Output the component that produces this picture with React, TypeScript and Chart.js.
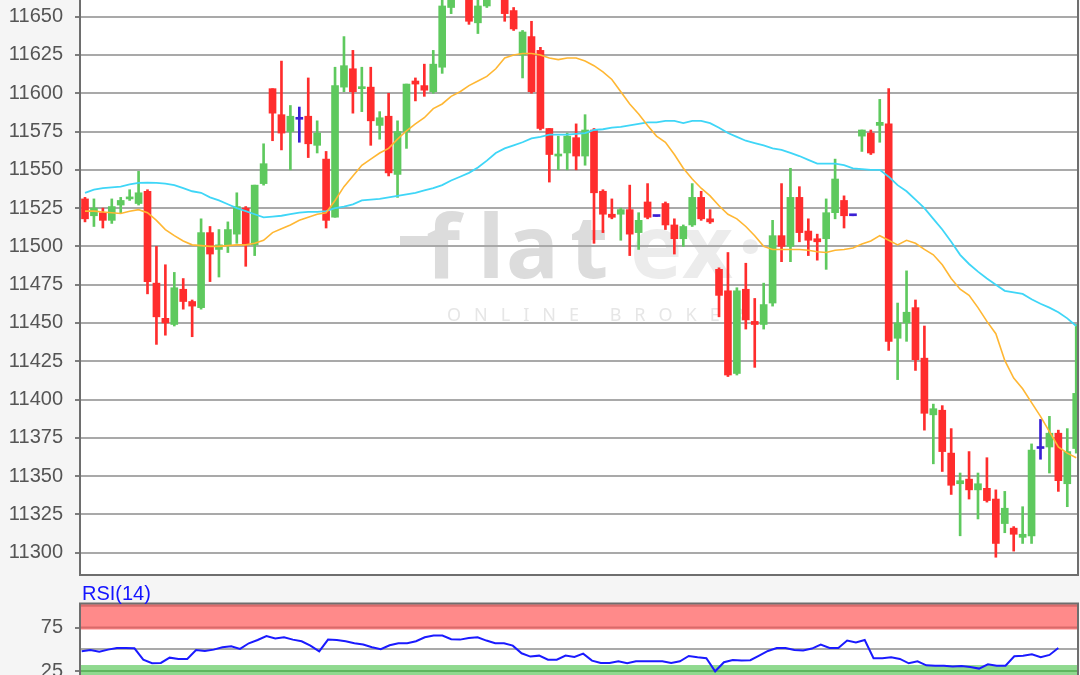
import { useEffect, useRef } from 'react';
import { Chart, registerables } from 'chart.js';

Chart.register(...registerables);

// ---- price candles (index 0..111) ----
const opens = [
  11531, 11520, 11522, 11517, 11527, 11531, 11528, 11536, 11476, 11453,
  11449, 11472, 11464, 11460, 11509, 11498, 11501, 11508, 11525, 11501,
  11541, 11603, 11586, 11575, 11583, 11585, 11566, 11557, 11519, 11604,
  11616, 11603, 11604, 11579, 11585, 11547, 11575, 11608, 11605, 11601,
  11617, 11656, 11665, 11668, 11646, 11657, 11672, 11664, 11654, 11625,
  11637, 11628, 11577, 11559, 11561, 11571, 11559, 11576, 11536, 11521,
  11521, 11524, 11509, 11529, 11519.5, 11528, 11514, 11505, 11514, 11532,
  11518, 11485, 11471, 11417, 11472, 11451, 11449, 11463, 11507, 11500,
  11532, 11510, 11505, 11505, 11522, 11530, 11520, 11572, 11574, 11579,
  11580, 11440, 11450, 11460, 11427, 11390, 11393, 11365, 11345, 11348,
  11341, 11342, 11335, 11319, 11316, 11310, 11311, 11368, 11369, 11378,
  11345, 11368,
];
const highs = [
  11532, 11531, 11525, 11531, 11532, 11537, 11549, 11537, 11500, 11488,
  11483, 11479, 11465, 11518, 11513, 11511, 11516, 11535, 11526, 11540,
  11567, 11603, 11621, 11592, 11591, 11610, 11582, 11562, 11617, 11637,
  11628, 11617, 11617, 11588, 11600, 11582, 11606, 11610, 11619, 11628,
  11665, 11668, 11680, 11672, 11663, 11668, 11678, 11668, 11656, 11641,
  11647, 11630, 11577, 11572, 11574, 11580, 11586, 11577, 11537, 11531,
  11525, 11540, 11522, 11541, 11519.5, 11529, 11518, 11514, 11541, 11536,
  11524, 11486, 11496, 11473, 11489, 11466, 11476, 11517, 11541, 11551,
  11539, 11518, 11508, 11531, 11557, 11533, 11520, 11576, 11576, 11596,
  11603, 11463, 11484, 11465, 11448, 11397, 11396, 11381, 11352, 11366,
  11352, 11362, 11341, 11340, 11317, 11330, 11371, 11387, 11389, 11380,
  11381, 11449,
];
const lows = [
  11516, 11513, 11512, 11515, 11522, 11530, 11527, 11469, 11436, 11442,
  11448, 11459, 11441, 11459, 11477, 11480, 11496, 11502, 11487, 11494,
  11540, 11569, 11563, 11550, 11568, 11558, 11561, 11512, 11519, 11601,
  11587, 11588, 11566, 11570, 11546, 11532, 11564, 11595, 11598, 11600,
  11613, 11652, 11662, 11645, 11639, 11656, 11662, 11647, 11641, 11610,
  11600, 11576, 11542, 11550, 11550, 11550, 11553, 11502, 11509, 11518,
  11504, 11494, 11498, 11518, 11519.5, 11511, 11495, 11500, 11513, 11517,
  11515, 11454, 11415, 11416, 11446, 11421, 11446, 11461, 11490, 11490,
  11503, 11494, 11491, 11485, 11518, 11512, 11520, 11562, 11560, 11568,
  11432, 11413, 11438, 11419, 11380, 11358, 11353, 11338, 11311, 11335,
  11322, 11333, 11297, 11313, 11301, 11306, 11306, 11361, 11352, 11340,
  11330, 11365,
];
const closes = [
  11518, 11525, 11517, 11526, 11530, 11532, 11535, 11477, 11454, 11450,
  11473, 11464, 11461, 11509, 11495, 11501, 11511, 11526, 11501, 11540,
  11554, 11587, 11574, 11585, 11583, 11567, 11574, 11517, 11605, 11618,
  11601, 11604, 11582, 11584, 11548, 11575, 11606, 11606, 11602, 11619,
  11657, 11664, 11675, 11647, 11657, 11663, 11665, 11652, 11642, 11640,
  11601, 11577, 11560, 11560, 11572, 11559, 11576, 11535, 11521, 11519,
  11524, 11508, 11517, 11519, 11519.5, 11514, 11505, 11513, 11532, 11518,
  11516, 11468, 11416, 11471, 11452, 11449, 11462, 11507, 11500, 11532,
  11509, 11504, 11503, 11522, 11544, 11520, 11520, 11576, 11561, 11581,
  11438, 11450, 11457, 11426, 11391, 11394, 11366, 11344, 11347, 11341,
  11345, 11334, 11306, 11329, 11312, 11312, 11367, 11368, 11378, 11347,
  11366, 11404,
];

// ---- moving averages ----
const maFast = [
  11523, 11523, 11522.5, 11522, 11521.5, 11523, 11524, 11522, 11517, 11511,
  11507, 11503.5, 11501, 11500.5, 11500, 11500, 11500.5, 11501, 11501, 11502,
  11504, 11509, 11511.5, 11514, 11517, 11519, 11521, 11522, 11530, 11539,
  11546, 11553, 11557, 11561, 11564, 11570, 11575.5, 11580, 11584, 11590,
  11593, 11598, 11601, 11605, 11608, 11611, 11616, 11623, 11625, 11626,
  11626, 11625, 11623, 11622, 11623, 11623, 11621, 11618, 11614, 11609,
  11601, 11593, 11586.5, 11579, 11572, 11568, 11560, 11551, 11544, 11538,
  11533, 11526.5, 11521, 11518, 11513, 11507, 11500, 11498, 11498, 11498,
  11498, 11497.5, 11496.5, 11496, 11497.5, 11498, 11499, 11501.5, 11503.5, 11507,
  11504, 11501, 11504, 11502, 11498, 11494.5, 11488, 11479, 11472, 11468,
  11460, 11451, 11443, 11425.5, 11414, 11407, 11398, 11389, 11379, 11369,
  11365, 11362,
];
const maSlow = [
  11535, 11537, 11538, 11538.5, 11539, 11540.5, 11541.5, 11541.6, 11541.5, 11541,
  11540, 11538, 11536, 11535, 11532, 11530, 11527.5, 11525, 11523, 11521,
  11519, 11519.5, 11520, 11521, 11522, 11522.5, 11522.5, 11523, 11525, 11526,
  11527.5, 11530, 11530.5, 11531, 11532, 11533, 11534, 11535, 11536.5, 11538,
  11540, 11543, 11545.5, 11548, 11551.5, 11556, 11561, 11564, 11566, 11568,
  11570.5, 11571.5, 11573, 11573, 11573, 11573.5, 11574, 11576, 11576.5, 11577.5,
  11578, 11579, 11580, 11581, 11581, 11582, 11582, 11580.5, 11582, 11582,
  11580.5, 11577.5, 11574, 11571.5, 11569, 11567.5, 11566, 11564, 11563, 11561,
  11559, 11556.5, 11554, 11554, 11554, 11553, 11551, 11550.5, 11550, 11550,
  11545.5, 11540, 11536, 11530.5, 11525, 11518, 11511, 11503, 11494.5, 11488.5,
  11483.5, 11479, 11475, 11471, 11470, 11469, 11465.5, 11462.5, 11460, 11457,
  11453, 11448,
];

// ---- RSI(14) ----
const rsi = [
  47.7, 49.2, 47.3, 49.6, 51.5, 51.5, 51.1, 38.1, 33.9, 34.3,
  40.4, 38.9, 38.9, 49.2, 48.1, 49.6, 52.3, 53.4, 50.4, 56.9,
  60.7, 65.3, 62.3, 63.8, 61.1, 59.2, 54.2, 47.7, 61.1, 60.7,
  59.2, 56.9, 55.4, 52.3, 50.0, 54.6, 56.9, 56.9, 59.2, 63.8,
  65.7, 65.7, 61.5, 61.1, 63.0, 63.8, 60.0, 56.9, 56.9, 54.2,
  45.4, 41.6, 42.7, 38.1, 38.1, 42.7, 41.2, 45.0, 37.0, 34.3,
  34.3, 36.2, 33.9, 36.2, 36.2, 36.2, 36.2, 34.3, 36.2, 42.3,
  40.8, 39.7, 24.7, 35.1, 37.7, 37.0, 37.4, 42.7, 48.1, 51.5,
  51.5, 49.2, 48.5, 50.8, 55.4, 51.5, 51.5, 60.0, 57.7, 60.7,
  39.7, 39.7, 40.8, 38.9, 33.9, 36.2, 31.6, 31.2, 31.2, 30.1,
  30.8, 29.7, 27.8, 32.8, 31.2, 31.2, 42.0, 42.7, 44.3, 40.8,
  43.5, 51.5,
];

const priceTicks = [11300, 11325, 11350, 11375, 11400, 11425, 11450, 11475, 11500, 11525, 11550, 11575, 11600, 11625, 11650];
const rsiTicks = [25, 50, 75];

const GREEN = '#5ec95e';
const RED = '#ff2d2d';
const BLUE = '#3a20d4';
const FONT = "'Liberation Sans', Arial, sans-serif";

export default function App() {
  const mainRef = useRef<HTMLCanvasElement>(null);
  const rsiRef = useRef<HTMLCanvasElement>(null);

  useEffect(() => {
    const idx = opens.map((_, i) => i);
    const colors = idx.map((i) =>
      closes[i] > opens[i] ? GREEN : closes[i] < opens[i] ? RED : BLUE
    );

    const mainPlugin = {
      id: 'mainDecor',
      beforeDraw(chart: any) {
        const { ctx, chartArea: a } = chart;
        ctx.save();
        ctx.fillStyle = '#ffffff';
        ctx.fillRect(a.left, a.top, a.right - a.left, a.bottom - a.top);
        // watermark
        ctx.beginPath();
        ctx.rect(a.left, a.top, a.right - a.left, a.bottom - a.top);
        ctx.clip();
        ctx.textBaseline = 'alphabetic';
        ctx.font = `bold 88px 'Noto Sans', sans-serif`;
        ctx.fillStyle = '#dcdcdc';
        ctx.fillRect(400, 236, 44, 9);
        const letters: [string, number][] = [['f', 426], ['l', 478], ['a', 506], ['t', 570]];
        letters.forEach(([c, x]) => ctx.fillText(c, x, 278));
        ctx.fillStyle = '#ececec';
        ctx.fillText('e', 630, 278);
        ctx.fillText('x', 682, 278);
        ctx.fillText('·', 738, 278);
        ctx.font = `18px 'Noto Sans', sans-serif`;
        ctx.fillStyle = '#e6e6e6';
        (ctx as any).letterSpacing = '13px';
        ctx.fillText('ONLINE BROKER', 447, 321);
        ctx.restore();
      },
      afterDraw(chart: any) {
        const { ctx, chartArea: a } = chart;
        ctx.save();
        ctx.strokeStyle = '#6e6e6e';
        ctx.lineWidth = 2;
        ctx.beginPath();
        ctx.moveTo(a.left, a.top);
        ctx.lineTo(a.left, a.bottom);
        ctx.lineTo(a.right, a.bottom);
        ctx.lineTo(a.right, a.top);
        ctx.stroke();
        ctx.restore();
      },
    };

    const main = new Chart(mainRef.current as HTMLCanvasElement, {
      type: 'bar',
      data: {
        datasets: [
          {
            type: 'line',
            label: 'MA fast',
            data: maFast.map((v, i) => ({ x: i, y: v })),
            borderColor: '#ffb733',
            borderWidth: 1.6,
            pointRadius: 0,
            order: -2,
          } as any,
          {
            type: 'line',
            label: 'MA slow',
            data: maSlow.map((v, i) => ({ x: i, y: v })),
            borderColor: '#3fd6f7',
            borderWidth: 1.8,
            pointRadius: 0,
            order: -1,
          } as any,
          {
            type: 'bar',
            label: 'body',
            data: idx.map((i) => ({ x: i, y: [opens[i], closes[i]] })),
            backgroundColor: colors,
            barThickness: 7,
            minBarLength: 2,
            grouped: false,
            borderWidth: 0,
            order: 0,
          } as any,
          {
            type: 'bar',
            label: 'wick',
            data: idx.map((i) => ({ x: i, y: [lows[i], highs[i]] })),
            backgroundColor: colors,
            barThickness: 2,
            grouped: false,
            borderWidth: 0,
            order: 1,
          } as any,
        ],
      },
      options: {
        responsive: false,
        animation: false,
        layout: { padding: { left: 0, right: 2, top: 0, bottom: 3 } },
        plugins: { legend: { display: false }, tooltip: { enabled: false } },
        scales: {
          x: { type: 'linear', min: -0.56, max: 111.2, display: false, offset: false },
          y: {
            type: 'linear',
            min: 11285.4,
            max: 11660.9,
            afterBuildTicks: (s: any) => {
              s.ticks = priceTicks.map((v) => ({ value: v }));
            },
            afterFit: (s: any) => {
              s.width = 80;
              s.paddingTop = 0;
              s.paddingBottom = 0;
            },
            ticks: {
              color: '#555555',
              font: { family: FONT, size: 20 },
              padding: 12,
              callback: (v: any) => String(v),
            },
            grid: { color: '#a9a9a9', lineWidth: 2, tickLength: 5, tickColor: '#555555', tickWidth: 1.5 },
            border: { display: false },
          },
        },
      } as any,
      plugins: [mainPlugin],
    });

    const rsiPlugin = {
      id: 'rsiDecor',
      beforeDraw(chart: any) {
        const { ctx, chartArea: a, scales } = chart;
        const y = scales.y;
        ctx.save();
        ctx.fillStyle = '#ffffff';
        ctx.fillRect(a.left, a.top, a.right - a.left, a.bottom - a.top);
        const y100 = y.getPixelForValue(100);
        const y75 = y.getPixelForValue(75);
        const y25 = y.getPixelForValue(25);
        const y0 = y.getPixelForValue(0);
        ctx.fillStyle = '#ff8a8a';
        ctx.fillRect(a.left, a.top, a.right - a.left, y75 + 2 - a.top);
        ctx.fillStyle = '#8fd98f';
        ctx.fillRect(a.left, y25 - 6, a.right - a.left, a.bottom - y25 + 6);
        ctx.lineWidth = 2;
        ctx.strokeStyle = '#d96a6a';
        [y100, y75].forEach((p) => {
          ctx.beginPath();
          ctx.moveTo(a.left, p);
          ctx.lineTo(a.right, p);
          ctx.stroke();
        });
        ctx.strokeStyle = '#5fb65f';
        [y25, y0].forEach((p) => {
          ctx.beginPath();
          ctx.moveTo(a.left, p);
          ctx.lineTo(a.right, p);
          ctx.stroke();
        });
        ctx.restore();
      },
      afterDraw(chart: any) {
        const { ctx, chartArea: a } = chart;
        ctx.save();
        ctx.strokeStyle = '#6e6e6e';
        ctx.lineWidth = 2;
        ctx.strokeRect(a.left, a.top, a.right - a.left, a.bottom - a.top);
        ctx.fillStyle = '#1414ff';
        ctx.font = `20px ${FONT}`;
        ctx.textBaseline = 'alphabetic';
        ctx.textAlign = 'left';
        ctx.fillText('RSI(14)', a.left + 2, a.top - 3.5);
        ctx.restore();
      },
    };

    const rsiChart = new Chart(rsiRef.current as HTMLCanvasElement, {
      type: 'line',
      data: {
        datasets: [
          {
            label: 'RSI(14)',
            data: rsi.map((v, i) => ({ x: i, y: v })),
            borderColor: '#1a1aff',
            borderWidth: 2,
            pointRadius: 0,
          },
        ],
      },
      options: {
        responsive: false,
        animation: false,
        layout: { padding: { left: 0, right: 2, top: 25.5, bottom: 2.2 } },
        plugins: { legend: { display: false }, tooltip: { enabled: false } },
        scales: {
          x: { type: 'linear', min: -0.19, max: 113.24, display: false },
          y: {
            type: 'linear',
            min: 0,
            max: 102.6,
            afterBuildTicks: (s: any) => {
              s.ticks = rsiTicks.map((v) => ({ value: v }));
            },
            afterFit: (s: any) => {
              s.width = 80;
              s.paddingTop = 0;
              s.paddingBottom = 0;
            },
            ticks: {
              color: '#555555',
              font: { family: FONT, size: 20 },
              padding: 12,
              callback: (v: any) => (v === 50 ? '' : String(v)),
            },
            grid: {
              lineWidth: 2,
              tickLength: 5,
              tickWidth: 1.5,
              color: (c: any) => (c.tick && c.tick.value === 50 ? '#a9a9a9' : 'rgba(0,0,0,0)'),
              tickColor: (c: any) => (c.tick && c.tick.value === 50 ? 'rgba(0,0,0,0)' : '#555555'),
            },
            border: { display: false },
          },
        },
      } as any,
      plugins: [rsiPlugin],
    });

    return () => {
      main.destroy();
      rsiChart.destroy();
    };
  }, []);

  return (
    <div
      style={{
        position: 'fixed',
        left: 0,
        top: 0,
        width: 1080,
        height: 675,
        overflow: 'hidden',
        background: '#f5f5f5',
      }}
    >
      <canvas ref={mainRef} width={1080} height={578} style={{ position: 'absolute', left: 0, top: 0 }} />
      <canvas ref={rsiRef} width={1080} height={117} style={{ position: 'absolute', left: 0, top: 578 }} />
    </div>
  );
}
